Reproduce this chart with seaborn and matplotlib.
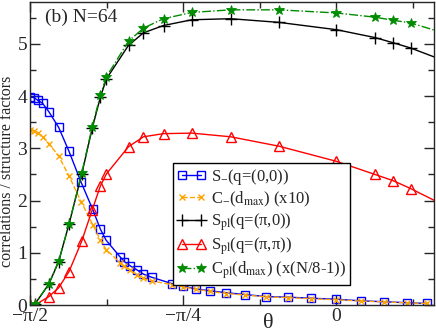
import numpy as np
import matplotlib
matplotlib.use("Agg")
import matplotlib.pyplot as plt
import seaborn as sns
from matplotlib.ticker import FixedLocator, MultipleLocator

# theta grid for S_ and C_ (blue / orange)
theta_a = [-1.5708, -1.5503, -1.5313, -1.5061, -1.4743, -1.4239, -1.3708, -1.3090,
           -1.2494, -1.2099, -1.1806, -1.1088, -1.0867, -1.0574, -1.0215, -0.9892,
           -0.9465, -0.8439, -0.7890, -0.7222, -0.6468, -0.5646, -0.4671, -0.3593,
           -0.2464, -0.1283, 0.0, 0.1247, 0.2428, 0.3593, 0.4635]
s_minus = [3.98, 3.97, 3.92, 3.86, 3.70, 3.40, 2.94, 2.35, 1.83, 1.45, 1.24, 0.92,
           0.83, 0.75, 0.67, 0.59, 0.53, 0.41, 0.36, 0.31, 0.27, 0.235, 0.20, 0.16,
           0.15, 0.13, 0.11, 0.08, 0.063, 0.044, 0.03]
c_minus = [3.35, 3.33, 3.30, 3.22, 3.09, 2.85, 2.47, 1.98, 1.54, 1.24, 1.06, 0.81,
           0.75, 0.67, 0.57, 0.51, 0.46, 0.39, 0.35, 0.30, 0.26, 0.22, 0.19, 0.155,
           0.14, 0.12, 0.10, 0.075, 0.06, 0.04, 0.03]

# theta grid for the pl quantities (black / red / green)
theta_b = [-1.5708, -1.5452, -1.4743, -1.4239, -1.3708, -1.3059, -1.2520, -1.2099,
           -1.1790, -1.0659, -0.9892, -0.8865, -0.7412, -0.5426, -0.2946, 0.0,
           0.1966, 0.2905, 0.3798, 0.556]
s_pl_pi0 = [0.0, 0.02, 0.40, 0.83, 1.55, 2.50, 3.38, 3.98, 4.33, 4.97, 5.21, 5.35,
            5.46, 5.48, 5.41, 5.27, 5.12, 5.02, 4.92, 4.67]
s_pl_pipi = [0.0, 0.0, 0.16, 0.33, 0.64, 1.22, 1.82, 2.28, 2.51, 3.03, 3.22, 3.28,
             3.29, 3.22, 3.04, 2.75, 2.50, 2.38, 2.23, 1.90]
c_pl = [0.0, 0.02, 0.40, 0.84, 1.55, 2.52, 3.41, 4.02, 4.37, 5.05, 5.30, 5.48,
        5.60, 5.65, 5.65, 5.59, 5.51, 5.45, 5.40, 5.20]

labels = [r"S$_{-}$(q=(0,0))",
          r"C$_{-}$(d$_{\rm max}$) (x10)",
          r"S$_{\rm pl}$(q=($\pi$,0))",
          r"S$_{\rm pl}$(q=($\pi$,$\pi$))",
          r"C$_{\rm pl}$(d$_{\rm max}$) (x(N/8-1))"]

sns.set_style("ticks")
plt.rcParams["font.family"] = ["Liberation Serif", "DejaVu Serif"]
plt.rcParams["mathtext.fontset"] = "stix"
plt.rcParams["mathtext.default"] = "regular"

fig = plt.figure(figsize=(4.36, 3.33), dpi=100)
ax = fig.add_axes([30 / 436, 28 / 333, 404 / 436, 303 / 333])

sns.lineplot(x=theta_a, y=s_minus, ax=ax, color="#0000ff", marker="s", markersize=6,
             markerfacecolor="none", markeredgecolor="#0000ff", markeredgewidth=1,
             linewidth=1, label=labels[0], sort=False)
sns.lineplot(x=theta_a, y=c_minus, ax=ax, color="#ffa500", marker="x", markersize=5,
             markeredgecolor="#ffa500", markeredgewidth=1, linewidth=1,
             linestyle="--", label=labels[1], sort=False)
sns.lineplot(x=theta_b, y=s_pl_pi0, ax=ax, color="black", marker="+", markersize=9,
             markeredgecolor="black", markeredgewidth=1, linewidth=1,
             label=labels[2], sort=False)
sns.lineplot(x=theta_b, y=s_pl_pipi, ax=ax, color="#ff0000", marker="^", markersize=7,
             markerfacecolor="none", markeredgecolor="#ff0000", markeredgewidth=1,
             linewidth=1, label=labels[3], sort=False)
sns.lineplot(x=theta_b, y=c_pl, ax=ax, color="#008b00", marker="*", markersize=7,
             markeredgecolor="#008b00", markeredgewidth=0.6, linewidth=1,
             linestyle="-.", label=labels[4], sort=False)

ax.set_xlim(-np.pi / 2, 0.5)
ax.set_ylim(0, 5.8)
ax.xaxis.set_major_locator(FixedLocator([-np.pi / 2, -np.pi / 4, 0]))
ax.xaxis.set_minor_locator(FixedLocator([-3 * np.pi / 8, -np.pi / 8, np.pi / 8]))
ax.set_xticklabels(["\u2212\u03c0/2", "\u2212\u03c0/4", "0"])
ax.yaxis.set_major_locator(MultipleLocator(1))
ax.yaxis.set_minor_locator(MultipleLocator(0.5))
ax.tick_params(which="both", direction="in", top=True, right=True, labelsize=14, pad=2)
ax.tick_params(which="major", length=7, width=1)
ax.tick_params(which="minor", length=4, width=1)
for sp in ax.spines.values():
    sp.set_linewidth(1)

ax.set_xlabel("\u03b8", fontsize=16)
ax.xaxis.set_label_coords(0.589, -0.03, transform=ax.transAxes)
ax.get_xaxis().get_label().set_va("top")
ax.set_ylabel("correlations / structure factors", fontsize=11.5)
ax.yaxis.set_label_coords(-0.037, 0.44)

ax.text(0.037, 0.95, "(b) N=64", transform=ax.transAxes, fontsize=14, va="center", ha="left")

leg = ax.legend(loc="upper left", bbox_to_anchor=(0.354, 0.469), borderaxespad=0,
                fontsize=12, numpoints=2, frameon=True, fancybox=False, framealpha=1,
                handlelength=1.7, handletextpad=0.3, labelspacing=0.15, borderpad=0.25)
leg.get_frame().set_edgecolor("black")
leg.get_frame().set_linewidth(1)

fig.savefig("out.png", dpi=100)
